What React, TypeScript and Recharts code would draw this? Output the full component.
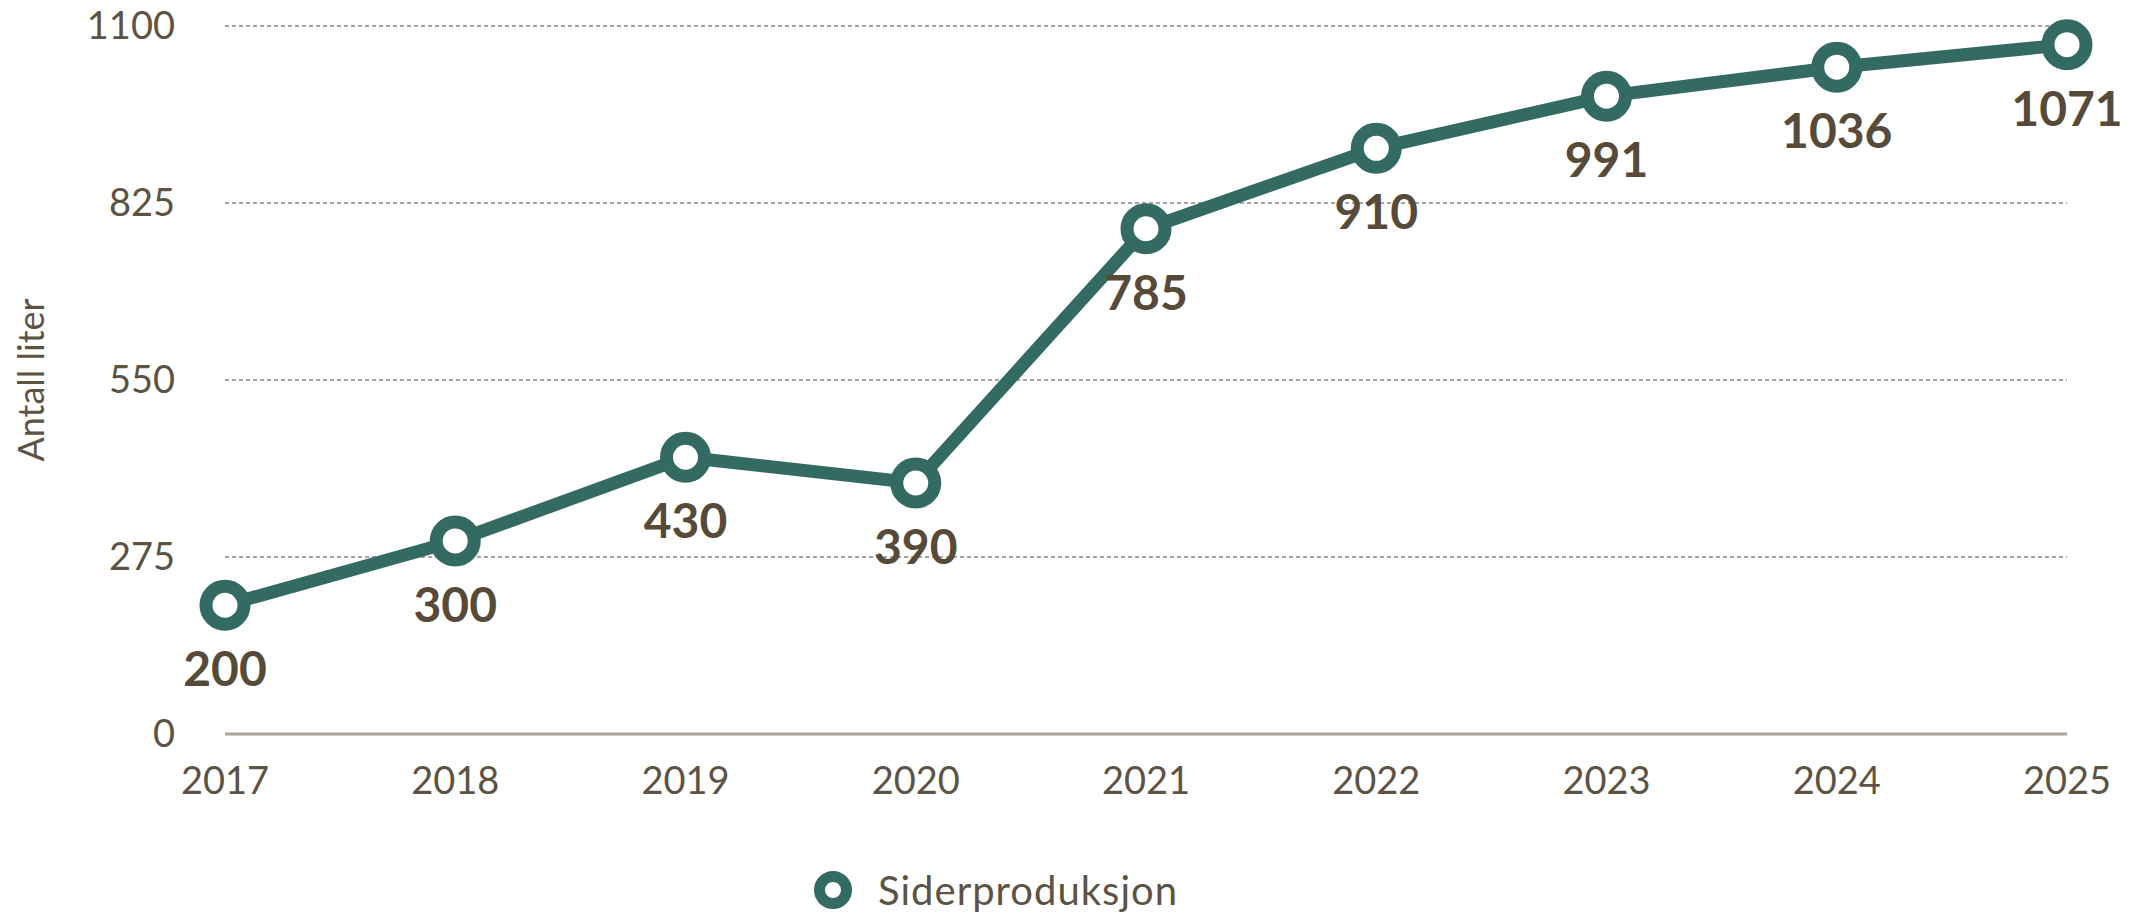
import { CartesianGrid, LabelList, Legend, Line, LineChart, XAxis, YAxis } from "recharts"

const years = ["2017", "2018", "2019", "2020", "2021", "2022", "2023", "2024", "2025"]
const produksjon = [200, 300, 430, 390, 785, 910, 991, 1036, 1071]
const yTicks = [0, 275, 550, 825, 1100]

const data = years.map((year, i) => ({ year, produksjon: produksjon[i] }))

const teal = "#336b62"
const tickColor = "#5d5345"
const labelColor = "#574a39"
const font = "Lato, 'Noto Sans', sans-serif"

function LegendContent() {
  return (
    <div style={{ display: "flex", alignItems: "center", height: 44, paddingLeft: 814, fontFamily: font }}>
      <svg width={38} height={38}>
        <circle cx={19} cy={19} r={13.5} fill="#fff" stroke={teal} strokeWidth={11} />
      </svg>
      <span style={{ marginLeft: 26, fontSize: 40, letterSpacing: 1, color: tickColor }}>Siderproduksjon</span>
    </div>
  )
}

function AxisTitle(props: any) {
  const vb = props.viewBox || {}
  const cx = (vb.x || 0) + 30
  const cy = (vb.y || 0) + (vb.height || 0) / 2
  return (
    <text
      x={cx}
      y={cy}
      transform={`rotate(-90, ${cx}, ${cy})`}
      textAnchor="middle"
      dominantBaseline="central"
      fontSize={36}
      fontFamily={font}
      fill={tickColor}
    >
      Antall liter
    </text>
  )
}

export default function App() {
  return (
    <div style={{ position: "absolute", left: 0, top: 0 }}>
      <LineChart
        width={2141}
        height={915}
        data={data}
        margin={{ top: 26, right: 74, left: 0, bottom: 57 }}
      >
        <CartesianGrid vertical={false} stroke="#aaa49c" strokeDasharray="4 3" strokeWidth={2} />
        <XAxis
          dataKey="year"
          tickLine={false}
          tickSize={0}
          tickMargin={33}
          height={80}
          axisLine={{ stroke: "#aaa49c", strokeWidth: 3 }}
          tick={{ fontSize: 38, fill: tickColor, fontFamily: font }}
        />
        <YAxis
          width={225}
          domain={[0, 1100]}
          ticks={yTicks}
          axisLine={false}
          tickLine={false}
          tickSize={0}
          tickMargin={50}
          tick={{ fontSize: 38, fill: tickColor, fontFamily: font }}
          label={<AxisTitle />}
        />
        <Legend
          verticalAlign="bottom"
          align="left"
          content={<LegendContent />}
          wrapperStyle={{ top: 868, left: 0, width: 2141, height: 44 }}
        />
        <Line
          dataKey="produksjon"
          name="Siderproduksjon"
          stroke={teal}
          strokeWidth={13}
          dot={{ r: 19, fill: "#fff", stroke: teal, strokeWidth: 13 }}
          activeDot={false}
          isAnimationActive={false}
        >
          <LabelList
            dataKey="produksjon"
            position="bottom"
            offset={47}
            fill={labelColor}
            fontSize={48}
            fontWeight={700}
            fontFamily={font}
          />
        </Line>
      </LineChart>
    </div>
  )
}
